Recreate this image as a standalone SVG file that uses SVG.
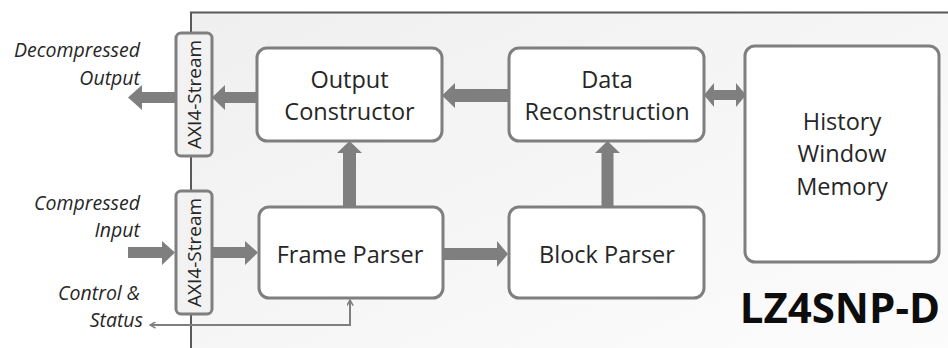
<svg xmlns="http://www.w3.org/2000/svg" width="948" height="348" viewBox="0 0 948 348">
<defs>
<linearGradient id="bg" x1="0" y1="0" x2="1" y2="1">
<stop offset="0" stop-color="#efefef"/>
<stop offset="0.6" stop-color="#f7f7f7"/>
<stop offset="1" stop-color="#fcfcfc"/>
</linearGradient>
<marker id="chev" viewBox="0 0 10 10" refX="9" refY="5" markerWidth="7" markerHeight="7" orient="auto-start-reverse" markerUnits="userSpaceOnUse">
<path d="M1,0.5 L9,5 L1,9.5" fill="none" stroke="#7f7f7f" stroke-width="2.2"/>
</marker>
</defs>
<style>
.box{fill:#ffffff;stroke:#7f7f7f;stroke-width:3}
.axi{fill:#f2f2f2;stroke:#7f7f7f;stroke-width:3}
.t{font-family:"Open Sans","Noto Sans",sans-serif;font-size:23.5px;fill:#262626;text-anchor:middle}
.lbl{font-family:"Open Sans","Noto Sans",sans-serif;font-size:19.5px;font-style:italic;fill:#262626;text-anchor:end}
.ax{font-family:"Open Sans","Noto Sans",sans-serif;font-size:19px;fill:#262626;text-anchor:middle}
.arr{fill:#7f7f7f}
</style>
<rect x="191" y="12.5" width="757" height="335.5" fill="url(#bg)"/>
<path d="M191,348 V12.5 H948" fill="none" stroke="#595959" stroke-width="2"/>

<g id="connectors">
<polygon class="arr" points="176,92 142,92 142,85 128,97.5 142,110 142,103 176,103"/>
<polygon class="arr" points="257,92 225,92 225,85 212,97.5 225,110 225,103 257,103"/>
<polygon class="arr" points="509,89 455,89 455,83 442,95.5 455,108 455,102 509,102"/>
<polygon class="arr" points="714,90 736,90 736,83 746,95 736,107 736,100 714,100 714,107 704,95 714,83"/>
<polygon class="arr" points="343,207 343,153 337,153 349.5,141 362,153 356,153 356,207"/>
<polygon class="arr" points="601.5,207 601.5,153 595,153 607.5,141 620,153 613.5,153 613.5,207"/>
<polygon class="arr" points="128,247 162,247 162,241 175,252.5 162,265 162,258 128,258"/>
<polygon class="arr" points="212,247 245,247 245,241 258,252.5 245,265 245,258 212,258"/>
<polygon class="arr" points="443,248 497,248 497,241 508,254 497,267 497,260 443,260"/>
<path d="M350,300 V325 H150" fill="none" stroke="#7f7f7f" stroke-width="2" marker-start="url(#chev)" marker-end="url(#chev)"/>
</g>

<g id="axi-out">
<rect class="axi" x="176" y="33" width="36" height="123" rx="5"/>
<text class="ax" transform="translate(200.5,94.5) rotate(-90)">AXI4-Stream</text>
</g>
<g id="axi-in">
<rect class="axi" x="176" y="191" width="36" height="123" rx="5"/>
<text class="ax" transform="translate(200.5,252.5) rotate(-90)">AXI4-Stream</text>
</g>

<g id="output-constructor">
<rect class="box" x="257" y="48" width="185" height="93" rx="10"/>
<text class="t" x="349.5" y="88">Output</text>
<text class="t" x="349.5" y="120">Constructor</text>
</g>
<g id="data-reconstruction">
<rect class="box" x="509" y="48" width="195" height="93" rx="10"/>
<text class="t" x="607" y="88">Data</text>
<text class="t" x="607" y="120">Reconstruction</text>
</g>
<g id="frame-parser">
<rect class="box" x="259" y="207" width="184" height="91" rx="10"/>
<text class="t" x="350" y="263">Frame Parser</text>
</g>
<g id="block-parser">
<rect class="box" x="509" y="207" width="195" height="91" rx="10"/>
<text class="t" x="607" y="263">Block Parser</text>
</g>
<g id="history-window-memory">
<rect class="box" x="745" y="46" width="194" height="216" rx="10"/>
<text class="t" x="842" y="130">History</text>
<text class="t" x="842" y="162">Window</text>
<text class="t" x="842" y="195">Memory</text>
</g>

<g id="labels">
<text class="lbl" x="140" y="57">Decompressed</text>
<text class="lbl" x="140" y="85">Output</text>
<text class="lbl" x="140" y="210">Compressed</text>
<text class="lbl" x="140" y="237">Input</text>
<text class="lbl" x="140" y="300">Control &amp;</text>
<text class="lbl" x="143" y="327">Status</text>
</g>
<text x="940" y="323" style="font-family:'Open Sans','Noto Sans',sans-serif;font-size:42px;font-weight:bold;fill:#0d0d0d;text-anchor:end">LZ4SNP-D</text>
</svg>
